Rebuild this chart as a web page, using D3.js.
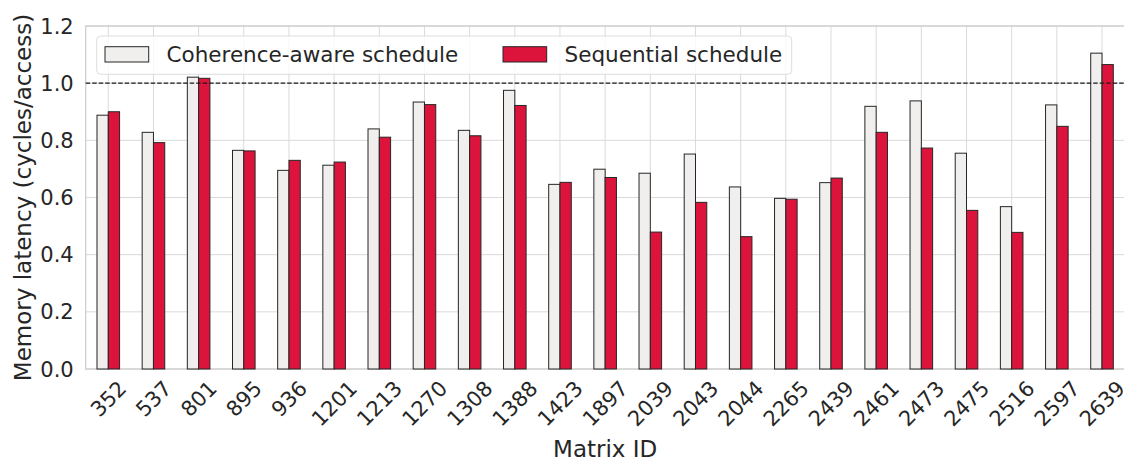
<!DOCTYPE html>
<html>
<head>
<meta charset="utf-8">
<script src="https://cdn.jsdelivr.net/npm/d3@7"></script>
<style>
  body { margin: 0; background: #fff; }
  text { font-family: "DejaVu Sans", sans-serif; fill: #262626; }
</style>
</head>
<body>
<svg id="chart" width="1124" height="459"></svg>
<script>
// matrix ids on the x axis
var matrixIds = ["352","537","801","895","936","1201","1213","1270","1308","1388","1423",
  "1897","2039","2043","2044","2265","2439","2461","2473","2475","2516","2597","2639"];

// memory latency, cycles/access
var coherenceAware = [0.888,0.828,1.021,0.765,0.695,0.713,0.840,0.934,0.835,0.975,0.646,
  0.699,0.685,0.752,0.637,0.597,0.652,0.919,0.938,0.755,0.568,0.924,1.105];
var sequential = [0.900,0.792,1.017,0.763,0.730,0.724,0.811,0.925,0.816,0.922,0.653,
  0.670,0.479,0.583,0.463,0.594,0.668,0.828,0.773,0.555,0.478,0.849,1.065];

var yTicks = [0.0, 0.2, 0.4, 0.6, 0.8, 1.0, 1.2];
var seriesNames = ["Coherence-aware schedule", "Sequential schedule"];
var seriesColors = ["#f0efed", "#dc143c"];

var svg = d3.select("#chart");
var plotLeft = 85.7, plotRight = 1124.6, plotTop = 26, plotBottom = 369;

var x = d3.scaleLinear().domain([-0.5, matrixIds.length - 0.5]).range([plotLeft, plotRight]);
var y = d3.scaleLinear().domain([0, 1.2]).range([plotBottom, plotTop]);
var barW = x(0.25) - x(0);

// grid
svg.append("g").selectAll("line").data(yTicks).enter().append("line")
  .attr("x1", plotLeft).attr("x2", plotRight)
  .attr("y1", function(d) { return y(d); }).attr("y2", function(d) { return y(d); })
  .attr("stroke", "#dadada").attr("stroke-width", 1);
svg.append("g").selectAll("line").data(matrixIds).enter().append("line")
  .attr("x1", function(d, i) { return x(i); }).attr("x2", function(d, i) { return x(i); })
  .attr("y1", plotTop).attr("y2", plotBottom)
  .attr("stroke", "#dadada").attr("stroke-width", 1);

// spines
svg.append("rect").attr("x", plotLeft).attr("y", plotTop)
  .attr("width", plotRight - plotLeft).attr("height", plotBottom - plotTop)
  .attr("fill", "none").attr("stroke", "#cccccc").attr("stroke-width", 1.2);

// bars
var series = [coherenceAware, sequential];
series.forEach(function(vals, s) {
  svg.append("g").selectAll("rect").data(vals).enter().append("rect")
    .attr("x", function(d, i) { return x(i) + (s - 1) * barW; })
    .attr("y", function(d) { return y(d); })
    .attr("width", barW)
    .attr("height", function(d) { return plotBottom - y(d); })
    .attr("fill", seriesColors[s])
    .attr("stroke", "#262626").attr("stroke-width", 1);
});

// reference line at 1.0
svg.append("line")
  .attr("x1", plotLeft).attr("x2", plotRight).attr("y1", y(1.0)).attr("y2", y(1.0))
  .attr("stroke", "#1a1a1a").attr("stroke-width", 1.4).attr("stroke-dasharray", "4.5,2");

// y ticks
svg.append("g").selectAll("text").data(yTicks).enter().append("text")
  .attr("x", plotLeft - 12).attr("y", function(d) { return y(d); })
  .attr("dy", "0.36em").attr("text-anchor", "end")
  .style("font-size", "21px")
  .text(function(d) { return d.toFixed(1); });

// x ticks, rotated 45 and centred on the tick
var xt = svg.append("g").selectAll("text").data(matrixIds).enter().append("text")
  .attr("text-anchor", "middle").attr("dy", "0.36em")
  .style("font-size", "21px")
  .text(function(d) { return d; });
xt.each(function(d, i) {
  var w = this.getComputedTextLength();
  var h = 21;
  var cy = 377 + (w + h) * Math.SQRT1_2 / 2;
  d3.select(this).attr("transform", "translate(" + x(i) + "," + cy + ") rotate(-45)");
});

// axis labels
svg.append("text").attr("x", (plotLeft + plotRight) / 2).attr("y", 457)
  .attr("text-anchor", "middle").style("font-size", "23px").text("Matrix ID");
svg.append("text")
  .attr("transform", "translate(31," + ((plotTop + plotBottom) / 2) + ") rotate(-90)")
  .attr("text-anchor", "middle").style("font-size", "23px")
  .text("Memory latency (cycles/access)");

// legend
var lg = svg.append("g");
lg.append("rect").attr("x", 96.7).attr("y", 36).attr("width", 695).attr("height", 38.3)
  .attr("rx", 4).attr("fill", "#fff").attr("fill-opacity", 0.8)
  .attr("stroke", "#dddddd").attr("stroke-width", 1);
var legX = [105, 503];
seriesNames.forEach(function(name, s) {
  lg.append("rect").attr("x", legX[s]).attr("y", 46.7).attr("width", 43.7).attr("height", 15.3)
    .attr("fill", seriesColors[s]).attr("stroke", "#262626").attr("stroke-width", 1);
  lg.append("text").attr("x", legX[s] + 61.5).attr("y", 54.5).attr("dy", "0.36em")
    .style("font-size", "21.5px").text(name);
});
</script>
</body>
</html>
